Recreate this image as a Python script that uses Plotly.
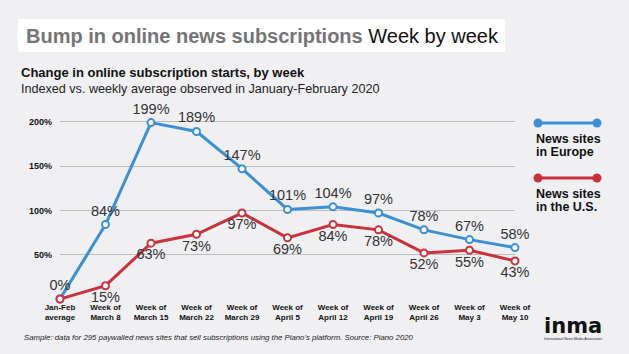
import plotly.graph_objects as go

categories = ["Jan-Feb<br>average", "Week of<br>March 8", "Week of<br>March 15", "Week of<br>March 22",
              "Week of<br>March 29", "Week of<br>April 5", "Week of<br>April 12", "Week of<br>April 19",
              "Week of<br>April 26", "Week of<br>May 3", "Week of<br>May 10"]
europe = [0, 84, 199, 189, 147, 101, 104, 97, 78, 67, 58]
us = [0, 15, 63, 73, 97, 69, 84, 78, 52, 55, 43]
y_ticks = [0, 50, 100, 150, 200]
y_tick_labels = ["", "50%", "100%", "150%", "200%"]

BLUE = "#3b90d5"
RED = "#c9333b"
BG = "#f0f0f2"
SANS = "Liberation Sans, Arial, sans-serif"

W, H = 629, 354
L, R, T, B = 60, 114, 104, 55
PW, PH = W - L - R, H - T - B


def px(x):
    return (x - L) / PW


def py(y):
    return (H - B - y) / PH


xs = list(range(len(categories)))
fig = go.Figure()
fig.add_trace(go.Scatter(
    x=xs, y=europe, mode="lines+markers+text",
    line=dict(color=BLUE, width=3),
    marker=dict(size=7, color="white", line=dict(color=BLUE, width=2)),
    text=[f"{v}%" for v in europe], textposition="top center",
    textfont=dict(family=SANS, size=14.5, color="#333333"),
    cliponaxis=False, showlegend=False, hoverinfo="skip"))
fig.add_trace(go.Scatter(
    x=xs, y=us, mode="lines+markers+text",
    line=dict(color=RED, width=3),
    marker=dict(size=7, color="white", line=dict(color=RED, width=2)),
    text=[""] + [f"{v}%" for v in us[1:]], textposition="bottom center",
    textfont=dict(family=SANS, size=14.5, color="#333333"),
    cliponaxis=False, showlegend=False, hoverinfo="skip"))

shapes = [
    dict(type="rect", xref="paper", yref="paper", x0=px(18), x1=px(505), y0=py(52), y1=py(19),
         fillcolor="white", line=dict(width=0), layer="below"),
]
for yy, col in [(123, BLUE), (178, RED)]:
    shapes.append(dict(type="line", xref="paper", yref="paper", x0=px(538), x1=px(597), y0=py(yy), y1=py(yy),
                       line=dict(color=col, width=3)))
    for cx in (538, 597):
        shapes.append(dict(type="circle", xref="paper", yref="paper", x0=px(cx - 4.5), x1=px(cx + 4.5),
                           y0=py(yy + 4.5), y1=py(yy - 4.5), fillcolor=col, line=dict(width=0)))

annotations = [
    dict(xref="paper", yref="paper", x=px(24), y=py(36), xanchor="left", yanchor="middle", showarrow=False,
         text="<b><span style='color:#747474'>Bump in online news subscriptions</span></b> Week by week",
         font=dict(family=SANS, size=20, color="#111111")),
    dict(xref="paper", yref="paper", x=px(19), y=py(73), xanchor="left", yanchor="middle", showarrow=False,
         text="<b>Change in online subscription starts, by week</b>",
         font=dict(family=SANS, size=13, color="#111111")),
    dict(xref="paper", yref="paper", x=px(19), y=py(89), xanchor="left", yanchor="middle", showarrow=False,
         text="Indexed vs. weekly average observed in January-February 2020",
         font=dict(family=SANS, size=12.6, color="#222222")),
    dict(xref="paper", yref="paper", x=px(22), y=py(337), xanchor="left", yanchor="middle", showarrow=False,
         text="<i>Sample: data for 295 paywalled news sites that sell subscriptions using the Piano's platform. Source: Piano 2020</i>",
         font=dict(family=SANS, size=7.8, color="#222222")),
    dict(xref="paper", yref="paper", x=px(573), y=py(326), xanchor="center", yanchor="middle", showarrow=False,
         text="<b>inma</b>", font=dict(family="DejaVu Sans, sans-serif", size=21, color="#111111")),
    dict(xref="paper", yref="paper", x=px(573), y=py(339), xanchor="center", yanchor="middle", showarrow=False,
         text="International News Media Association", font=dict(family=SANS, size=3.5, color="#222222")),
]
for text, yy in [("News sites", 139), ("in Europe", 152), ("News sites", 194), ("in the U.S.", 207)]:
    annotations.append(dict(xref="paper", yref="paper", x=px(534), y=py(yy), xanchor="left", yanchor="middle",
                            showarrow=False, text=f"<b>{text}</b>",
                            font=dict(family=SANS, size=12.5, color="#111111")))

fig.update_layout(
    width=W, height=H, margin=dict(l=L, r=R, t=T, b=B, autoexpand=False),
    paper_bgcolor=BG, plot_bgcolor=BG,
    shapes=shapes, annotations=annotations,
    xaxis=dict(range=[0, len(categories) - 1], tickvals=xs, ticktext=[f"<b>{c}</b>" for c in categories],
               showgrid=False, zeroline=False, showline=False, ticks="", tickangle=0, automargin=False,
               ticklabelstandoff=2,
               tickfont=dict(family=SANS, size=8, color="#111111"), fixedrange=True),
    yaxis=dict(range=[0, 220], tickvals=y_ticks, ticktext=[f"<b>{t}</b>" for t in y_tick_labels],
               showgrid=True, gridcolor="#bdbdbd", gridwidth=1, zeroline=False, showline=False,
               ticks="", ticklabelstandoff=7, automargin=False,
               tickfont=dict(family=SANS, size=9, color="#111111"), fixedrange=True),
)
fig.write_html("out.html")
